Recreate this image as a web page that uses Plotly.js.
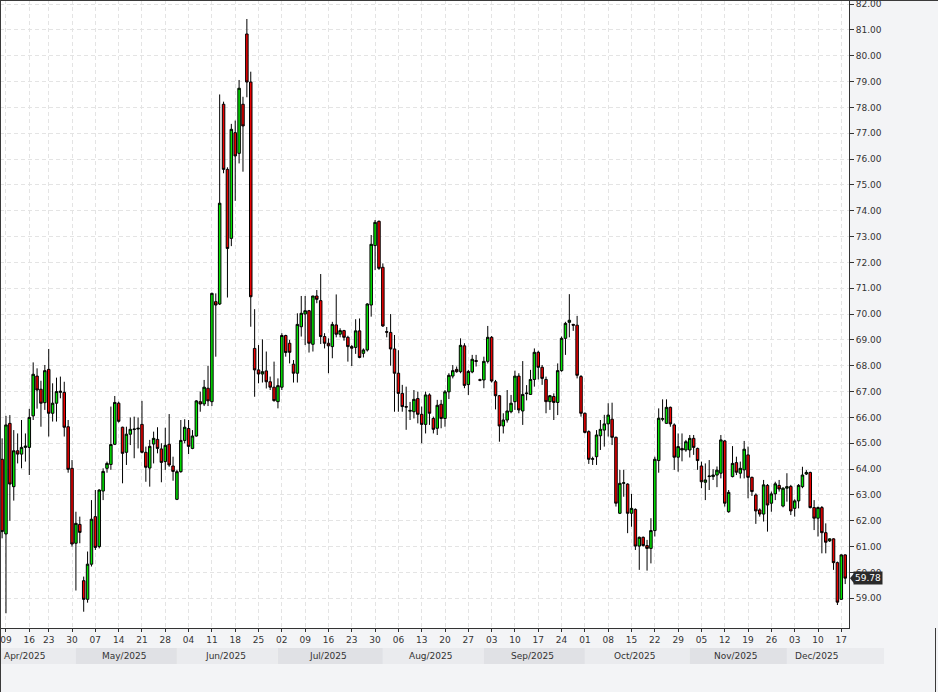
<!DOCTYPE html>
<html>
<head>
<meta charset="utf-8">
<script src="https://cdn.plot.ly/plotly-3.0.1.min.js"></script>
<style>
html,body{margin:0;padding:0;background:#f3f4f6;overflow:hidden;}
#chart{width:938px;height:692px;}
</style>
</head>
<body>
<div id="chart"></div>
<script>
// ---- Daily OHLC (Sunday–Friday sessions), 8 Apr 2025 – 18 Dec 2025 ----
const opens = [
64.38,61.49,65.77,63.32,64.71,64.58,64.84,64.84,66.06,67.60,
67.09,66.57,67.86,66.16,66.55,66.97,66.97,65.64,64.03,61.13,
61.86,59.68,58.96,60.32,62.16,61.00,63.15,64.03,64.18,64.96,
66.55,65.62,64.65,65.35,65.53,65.55,65.73,64.65,64.04,64.97,
65.15,64.78,64.29,64.96,64.12,62.83,63.90,65.11,65.57,64.80,
65.28,66.61,66.52,67.13,66.61,70.48,70.39,78.12,75.60,72.93,
77.02,76.22,78.12,80.84,78.98,68.67,67.84,67.68,67.80,67.38,
67.17,66.61,67.17,69.17,68.87,68.06,67.71,69.51,70.00,70.13,
68.83,70.70,70.52,69.13,68.87,68.74,69.58,69.22,69.36,69.10,
68.74,68.71,69.35,68.48,68.61,70.35,72.65,73.59,71.81,69.32,
69.29,68.65,67.71,66.93,66.42,66.24,66.22,66.73,66.12,65.73,
66.87,65.96,65.58,66.51,65.96,66.99,67.60,67.86,67.77,68.77,
67.27,67.76,68.20,67.46,67.45,68.17,69.10,67.38,66.84,65.67,
65.90,66.22,66.61,67.60,66.25,66.92,66.89,67.47,68.52,67.94,
67.47,66.61,66.81,66.58,67.81,69.06,69.68,69.60,69.57,67.58,
66.16,65.45,64.38,64.48,65.29,65.51,65.75,65.93,65.23,62.29,
63.45,63.42,62.29,62.44,61.02,61.36,61.04,60.93,61.62,64.33,
65.93,65.77,66.39,65.71,64.46,64.80,64.74,64.74,65.19,64.80,
64.12,63.49,63.71,63.71,63.77,63.84,65.09,62.35,63.71,64.25,
63.84,63.97,64.55,63.68,63.00,62.42,62.26,63.37,62.68,63.04,
63.37,62.57,63.26,63.33,62.48,62.77,63.32,63.81,63.87,62.51,
62.10,62.51,61.54,61.22,61.30,60.38,58.96,60.68
];
const highs = [
65.19,66.06,66.09,65.51,65.38,65.90,65.38,66.33,68.13,67.90,
67.42,68.03,68.65,67.32,67.54,67.58,67.38,65.90,64.35,62.35,
62.16,59.84,60.81,62.80,63.19,63.22,64.03,64.29,66.42,66.83,
66.61,65.64,65.64,66.00,66.03,66.00,66.64,64.87,65.13,65.45,
65.62,65.00,65.60,66.13,64.48,63.97,65.90,65.93,65.90,65.51,
66.67,67.00,67.45,68.00,70.83,70.80,78.50,78.22,75.68,77.36,
77.49,79.06,78.41,81.42,79.38,70.19,68.80,69.02,68.55,67.58,
68.16,67.51,69.26,69.20,69.00,68.22,70.03,70.70,70.70,70.16,
70.70,70.93,71.55,69.26,69.06,69.70,70.76,69.45,69.39,69.16,
68.80,69.80,69.83,68.67,70.42,73.06,73.64,73.62,71.96,69.50,
70.00,69.19,68.60,67.26,67.19,66.60,67.06,67.00,66.42,67.00,
66.93,66.03,66.68,66.68,67.06,67.71,68.03,67.97,69.06,68.87,
67.84,68.42,68.42,67.50,68.35,69.54,69.15,67.45,66.87,66.16,
67.06,66.87,67.81,67.71,68.18,67.25,67.84,68.67,68.58,68.03,
67.58,66.87,66.93,68.09,69.13,69.70,70.77,69.62,69.93,67.64,
66.19,65.50,64.48,65.51,65.90,66.10,66.55,66.57,65.26,63.97,
63.97,63.45,63.04,62.48,61.39,61.39,61.26,62.10,64.48,66.35,
66.70,66.70,66.42,65.77,65.38,65.38,65.13,65.32,65.32,64.83,
64.29,64.22,64.35,64.00,64.10,65.32,65.13,63.19,64.89,64.48,
64.29,65.09,64.87,63.71,63.06,62.48,63.58,63.42,63.13,63.51,
63.58,63.30,63.84,63.39,62.83,63.42,64.09,63.96,63.90,62.80,
62.55,62.57,61.90,61.32,61.32,60.42,60.70,60.70
];
const lows = [
61.32,58.42,62.00,62.78,64.22,64.03,64.29,63.77,65.90,66.34,
65.64,66.29,65.26,65.84,65.84,66.74,65.26,63.86,61.00,59.30,
61.13,58.48,58.83,60.23,60.87,60.93,62.80,63.86,63.97,64.93,
65.80,63.45,64.16,64.93,64.42,64.80,64.61,63.51,63.32,64.22,
64.61,63.49,63.97,64.09,63.55,62.80,63.86,65.00,64.58,64.77,
65.26,66.22,66.44,66.44,66.44,68.35,70.35,75.45,70.64,72.63,
74.38,75.83,75.51,78.39,69.51,66.80,67.32,67.35,67.12,67.06,
66.61,66.35,67.06,68.35,68.09,67.35,67.35,69.13,68.80,68.51,
68.55,70.42,68.84,68.67,67.71,68.29,69.10,69.10,68.97,68.16,
67.99,68.46,68.29,68.32,68.55,69.90,71.70,71.71,69.50,69.10,
68.00,66.22,66.22,66.22,65.52,65.90,65.96,65.77,65.00,65.38,
65.71,65.38,65.32,65.58,65.64,66.71,67.51,67.73,67.71,67.13,
66.87,67.71,67.97,67.40,67.13,68.09,67.35,66.31,65.06,65.38,
65.80,66.16,66.29,66.16,65.71,66.66,66.87,67.19,67.47,67.26,
66.16,66.29,65.90,66.09,67.77,68.42,69.10,69.35,67.51,66.03,
65.38,64.20,64.16,64.16,64.74,64.87,65.26,64.93,62.55,62.26,
62.93,61.52,61.77,60.87,60.10,61.00,60.07,60.35,61.39,63.86,
65.85,65.75,65.64,63.97,63.90,64.30,64.67,64.45,64.55,63.97,
63.26,62.80,63.19,63.58,63.30,63.64,62.55,62.31,63.68,63.77,
63.64,63.64,62.87,62.96,61.88,62.16,61.97,61.58,62.35,62.80,
63.13,62.52,62.74,62.22,62.16,62.48,63.26,63.77,62.48,61.64,
61.39,60.74,60.74,61.18,60.10,58.74,58.94,59.55
];
const closes = [
61.58,65.71,63.42,64.71,64.58,64.84,64.89,66.00,67.67,67.06,
66.55,67.81,66.16,66.55,67.00,67.01,65.62,63.99,61.10,61.90,
61.55,58.96,60.32,62.06,60.97,63.19,63.91,64.22,64.95,66.58,
65.85,64.61,65.35,65.54,65.55,65.58,64.65,64.07,64.88,65.19,
64.80,64.26,64.92,64.16,63.91,63.90,65.11,65.62,64.88,65.28,
66.64,66.52,67.17,66.64,70.80,70.35,74.29,75.60,72.54,77.15,
76.12,78.74,77.28,78.98,70.67,67.84,67.68,67.77,67.38,67.17,
66.65,67.23,69.17,68.51,68.52,67.71,69.60,70.03,70.13,68.87,
70.70,70.57,69.13,68.87,68.77,69.60,69.22,69.36,69.10,68.74,
68.68,69.35,68.32,68.61,70.39,72.70,73.55,71.77,69.54,69.30,
68.65,67.71,66.93,66.42,66.40,66.27,66.70,66.12,65.73,66.87,
66.16,65.54,66.47,65.96,66.99,67.63,67.81,67.77,68.79,67.24,
67.78,68.25,68.17,67.44,68.17,69.10,67.41,66.84,65.67,65.90,
66.25,66.55,67.60,66.29,66.89,66.94,67.47,68.52,67.94,67.51,
66.61,66.84,66.58,67.81,69.06,69.64,69.76,69.57,67.63,66.16,
65.42,64.38,64.40,65.32,65.54,65.75,66.09,65.23,62.68,63.45,
63.47,62.29,62.48,61.02,61.36,61.04,60.93,61.62,64.38,65.97,
65.95,66.39,65.75,64.46,64.87,64.74,65.06,65.19,64.84,64.33,
63.51,63.58,63.73,63.77,63.96,65.13,62.68,63.10,64.22,63.88,
64.03,64.77,63.68,63.13,62.38,62.26,63.39,62.61,63.04,63.43,
63.23,63.26,63.32,62.38,62.77,63.37,63.77,63.87,62.51,62.10,
62.51,61.54,61.17,61.30,60.38,58.85,60.68,59.78
];
const lastPrice = 59.78;
const monthLabels = ['Apr/2025','May/2025','Jun/2025','Jul/2025','Aug/2025','Sep/2025','Oct/2025','Nov/2025','Dec/2025'];
const yTickVals = [59,60,61,62,63,64,65,66,67,68,69,70,71,72,73,74,75,76,77,78,79,80,81,82];

// ---- session calendar: Sunday–Friday, no session on Good Friday ----
const firstSession = '2025-04-08';
const closedDays = ['2025-04-18'];
function sessionDates(n){
  const out = [];
  const d = new Date(firstSession + 'T00:00:00Z');
  while (out.length < n){
    const s = d.toISOString().slice(0,10);
    if (d.getUTCDay() !== 6 && closedDays.indexOf(s) < 0) out.push(s);
    d.setUTCDate(d.getUTCDate() + 1);
  }
  return out;
}
const dates = sessionDates(closes.length);

// weekly ticks on Wednesdays
const tickVals = [], tickText = [];
dates.forEach(s => {
  if (new Date(s + 'T00:00:00Z').getUTCDay() === 3){ tickVals.push(s); tickText.push(s.slice(8,10)); }
});

// ---- layout geometry ----
const W = 938, H = 692, M = {l:0, r:89, t:0, b:64};
const PW = W - M.l - M.r, PH = H - M.t - M.b;
const xRange = [-0.54, 217.98];
const yRange = [57.85, 82.155];
const toPX = v => (v - xRange[0]) / (xRange[1] - xRange[0]);   // category index -> paper x
const pyPix = p => (PH - p) / PH;                               // pixel row -> paper y

// month blocks under the date axis
const monthFirst = [];
dates.forEach((s,i) => { const m = +s.slice(5,7); if (!monthFirst.some(o => o.m === m)) monthFirst.push({m, i}); });
const aprilVirtualStart = -6;   // series begins 1 Apr, before the visible window
const decBlockEnd = 227;        // December block runs past the last session
const shapes = [], annotations = [];
const bandTop = pyPix(648), bandBot = pyPix(664);
monthFirst.forEach((o, k) => {
  const start = (k === 0) ? aprilVirtualStart : o.i;
  const nextStart = (k < monthFirst.length - 1) ? monthFirst[k+1].i : dates.length;
  const blockEnd = (k < monthFirst.length - 1) ? monthFirst[k+1].i : decBlockEnd;
  shapes.push({type:'rect', xref:'paper', yref:'paper', layer:'below',
    x0: Math.max(0, toPX(start)), x1: toPX(blockEnd), y0: bandBot, y1: bandTop,
    fillcolor: (k % 2 === 0) ? '#eaebee' : '#e0e1e5', line:{width:0}});
  annotations.push({xref:'paper', yref:'paper', x: toPX((start + nextStart - 1)/2), y: pyPix(656),
    xanchor:'center', yanchor:'middle', showarrow:false, text: monthLabels[k],
    font:{family:'DejaVu Sans, sans-serif', size:9, color:'#333333'}});
});

// frame lines
shapes.push({type:'line', xref:'paper', yref:'paper', x0:0, x1:W/PW, y0:1, y1:1, line:{color:'#3a3a3a', width:2}});
shapes.push({type:'line', xref:'paper', yref:'paper', x0:0, x1:0, y0:1, y1:-M.b/PH, line:{color:'#3a3a3a', width:2}});
shapes.push({type:'line', xref:'paper', yref:'paper', x0:935.5/PW, x1:935.5/PW, y0:0, y1:-M.b/PH, line:{color:'#3a3a3a', width:1}});

// last price tag
shapes.push({type:'path', xref:'paper', yref:'y', xsizemode:'pixel', ysizemode:'pixel',
  xanchor:1, yanchor:lastPrice, path:'M 1 0 L 5 -5 L 5 5 Z', fillcolor:'#2a2a2a', line:{width:0}});
annotations.push({xref:'paper', yref:'y', x:1, y:lastPrice, xanchor:'left', yanchor:'middle', xshift:4,
  showarrow:false, text: lastPrice.toFixed(2), bgcolor:'#2a2a2a', borderpad:1,
  font:{family:'DejaVu Sans, sans-serif', size:9, color:'#ffffff'}});

const trace = {
  type:'candlestick', x: dates, open: opens, high: highs, low: lows, close: closes,
  increasing:{line:{color:'#000000', width:1}, fillcolor:'#00e600'},
  decreasing:{line:{color:'#000000', width:1}, fillcolor:'#ee0000'},
  whiskerwidth: 0, hoverinfo:'x+y'
};

const layout = {
  width: W, height: H, margin: {l:M.l, r:M.r, t:M.t, b:M.b, pad:0},
  paper_bgcolor:'#f3f4f6', plot_bgcolor:'#ffffff', showlegend:false,
  font:{family:'DejaVu Sans, sans-serif', size:9, color:'#333333'},
  boxgap: 0.08,
  xaxis:{type:'category', range:xRange, rangeslider:{visible:false}, fixedrange:true,
    tickmode:'array', tickvals:tickVals, ticktext:tickText,
    ticks:'outside', ticklen:3, tickcolor:'#333333', tickwidth:1,
    showgrid:true, gridcolor:'#e4e4e4', gridwidth:1, griddash:'4px,3px',
    showline:true, linecolor:'#333333', linewidth:1, mirror:true, zeroline:false,
    tickfont:{family:'DejaVu Sans, sans-serif', size:9, color:'#333333'}},
  yaxis:{side:'right', range:yRange, fixedrange:true, ticklabeloverflow:'allow',
    tickmode:'array', tickvals:yTickVals, tickformat:'.2f',
    ticks:'outside', ticklen:4, tickcolor:'#333333', tickwidth:1,
    showgrid:true, gridcolor:'#e4e4e4', gridwidth:1, griddash:'4px,3px',
    showline:true, linecolor:'#333333', linewidth:1, mirror:true, zeroline:false,
    tickfont:{family:'DejaVu Sans, sans-serif', size:9, color:'#333333'}},
  shapes: shapes, annotations: annotations
};

Plotly.newPlot('chart', [trace], layout, {displayModeBar:false, staticPlot:true});
</script>
</body>
</html>
